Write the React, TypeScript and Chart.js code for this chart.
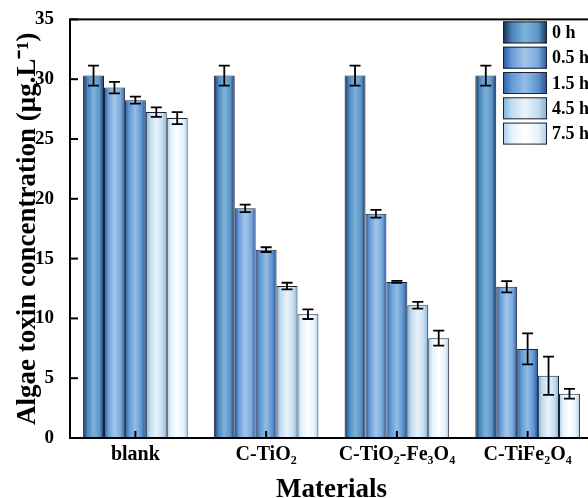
import React, { useEffect, useRef } from 'react';
import { Chart, registerables } from 'chart.js';

Chart.register(...registerables);

const categories = ['blank', 'C-TiO₂', 'C-TiO₂-Fe₃O₄', 'C-TiFe₂O₄'];
const seriesLabels = ['0 h', '0.5 h', '1.5 h', '4.5 h', '7.5 h'];

const values0h = [30.3, 30.3, 30.3, 30.3];
const values05h = [29.3, 19.2, 18.75, 12.65];
const values15h = [28.25, 15.75, 13.05, 7.45];
const values45h = [27.25, 12.7, 11.1, 5.2];
const values75h = [26.75, 10.35, 8.35, 3.7];

const errors0h = [0.83, 0.83, 0.83, 0.83];
const errors05h = [0.48, 0.32, 0.33, 0.47];
const errors15h = [0.3, 0.2, 0.08, 1.3];
const errors45h = [0.4, 0.28, 0.28, 1.6];
const errors75h = [0.5, 0.4, 0.62, 0.4];

const yMin = 0;
const yMax = 35;
const yStep = 5;

const seriesValues = [values0h, values05h, values15h, values45h, values75h];
const seriesErrors = [errors0h, errors05h, errors15h, errors45h, errors75h];

const FONT = '"Liberation Serif", "Times New Roman", serif';

const gradientStops: string[][] = [
  ['#152a4d', '#4a84bb', '#7db3da', '#5a94c6', '#17305a'],
  ['#2453a0', '#6a9cd6', '#a2c6ea', '#7aa8db', '#2858a3'],
  ['#2c60a8', '#6399d3', '#93bde6', '#5c92cf', '#264f92'],
  ['#7db1da', '#c4dcf0', '#e9f3fb', '#c4dcf0', '#7db1da'],
  ['#a8cde9', '#e6f2fb', '#ffffff', '#e6f2fb', '#a8cde9'],
];
const stopPos = [0, 0.2, 0.5, 0.8, 1];

function makeGrad(ctx: CanvasRenderingContext2D, left: number, w: number, stops: string[]) {
  const g = ctx.createLinearGradient(left, 0, left + w, 0);
  stops.forEach((c, i) => g.addColorStop(stopPos[i], c));
  return g;
}

const CAT_PCT = 0.8;

const decorPlugin = {
  id: 'decor',
  afterDatasetsDraw(chart: any) {
    const ctx = chart.ctx as CanvasRenderingContext2D;
    const ys = chart.scales.y;
    ctx.save();
    ctx.strokeStyle = '#000';
    ctx.lineWidth = 1.8;
    seriesErrors.forEach((errs, di) => {
      const meta = chart.getDatasetMeta(di);
      meta.data.forEach((el: any, j: number) => {
        const v = seriesValues[di][j];
        const e = errs[j];
        const yTop = ys.getPixelForValue(v + e);
        const yBot = ys.getPixelForValue(v - e);
        const x = el.x;
        const cap = 5.5;
        ctx.beginPath();
        ctx.moveTo(x, yTop);
        ctx.lineTo(x, yBot);
        ctx.moveTo(x - cap, yTop);
        ctx.lineTo(x + cap, yTop);
        ctx.moveTo(x - cap, yBot);
        ctx.lineTo(x + cap, yBot);
        ctx.stroke();
      });
    });
    ctx.restore();
  },
  afterDraw(chart: any) {
    const ctx = chart.ctx as CanvasRenderingContext2D;
    const ca = chart.chartArea;
    const ys = chart.scales.y;
    const xs = chart.scales.x;
    ctx.save();
    ctx.strokeStyle = '#000';
    ctx.lineWidth = 2;
    ctx.strokeRect(ca.left, ca.top, ca.right - ca.left, ca.bottom - ca.top);
    ys.ticks.forEach((t: any, i: number) => {
      const y = ys.getPixelForTick(i);
      ctx.beginPath();
      ctx.moveTo(ca.left, y);
      ctx.lineTo(ca.left + 8, y);
      ctx.stroke();
    });
    categories.forEach((_, i) => {
      const x = xs.getPixelForValue(i);
      ctx.beginPath();
      ctx.moveTo(x, ca.bottom);
      ctx.lineTo(x, ca.bottom - 7);
      ctx.stroke();
    });
    const boxW = 44;
    const boxH = 22;
    const gap = 25.3;
    const bx = ca.right - 90;
    const by = ca.top + 2;
    ctx.font = `bold 18px ${FONT}`;
    ctx.textBaseline = 'middle';
    ctx.textAlign = 'left';
    seriesLabels.forEach((lab, i) => {
      const y = by + i * gap;
      ctx.fillStyle = makeGrad(ctx, bx, boxW, gradientStops[i]);
      ctx.fillRect(bx, y, boxW, boxH);
      ctx.lineWidth = 1;
      ctx.strokeStyle = '#1a2233';
      ctx.strokeRect(bx + 0.5, y + 0.5, boxW - 1, boxH - 1);
      ctx.fillStyle = '#000';
      ctx.fillText(lab, bx + boxW + 5, y + boxH / 2 + 1);
    });
    ctx.restore();
  },
};

export default function App() {
  const ref = useRef<HTMLCanvasElement>(null);
  useEffect(() => {
    if (!ref.current) return;
    const datasets = seriesLabels.map((label, di) => ({
      label,
      data: seriesValues[di],
      borderColor: '#1a2233',
      borderWidth: 1,
      borderSkipped: false,
      categoryPercentage: CAT_PCT,
      barPercentage: 1.0,
      backgroundColor: (c: any) => {
        const chart = c.chart;
        const xs = chart.scales && chart.scales.x;
        if (c.type !== 'data' || !chart.chartArea || !xs) return gradientStops[di][2];
        const catW = (xs.right - xs.left) / categories.length;
        const groupW = catW * CAT_PCT;
        const barW = groupW / seriesLabels.length;
        const center = xs.getPixelForValue(c.dataIndex);
        const left = center - groupW / 2 + c.datasetIndex * barW;
        return makeGrad(chart.ctx, left, barW, gradientStops[di]);
      },
    }));
    const chart = new Chart(ref.current, {
      type: 'bar',
      data: { labels: categories, datasets },
      plugins: [decorPlugin],
      options: {
        responsive: false,
        animation: false,
        devicePixelRatio: 1,
        layout: { padding: { top: 16, right: 7, left: 0, bottom: 0 } },
        plugins: { legend: { display: false }, tooltip: { enabled: false }, title: { display: false } },
        scales: {
          x: {
            type: 'category',
            grid: { display: false },
            border: { display: false },
            ticks: { color: '#000', font: { family: FONT, size: 20, weight: 'bold' }, padding: -3, maxRotation: 0, autoSkip: false },
            title: {
              display: true,
              text: 'Materials',
              color: '#000',
              font: { family: FONT, size: 27, weight: 'bold', lineHeight: 1 },
              padding: { top: 0, bottom: -6 },
            },
            afterFit: (s: any) => { s.height = 60; },
          },
          y: {
            min: yMin,
            max: yMax,
            grid: { display: false },
            border: { display: false },
            ticks: { stepSize: yStep, color: '#000', font: { family: FONT, size: 19, weight: 'bold' }, padding: 8 },
            title: {
              display: true,
              text: 'Algae toxin concentration (μg.L⁻¹)',
              color: '#000',
              font: { family: FONT, size: 27, weight: 'bold', lineHeight: 1.2 },
              padding: { top: 12, bottom: 0 },
            },
            afterFit: (s: any) => { s.width = 70; },
          },
        },
      },
    });
    return () => chart.destroy();
  }, []);
  return (
    <div style={{ position: 'fixed', left: 0, top: 0, width: 588, height: 498, overflow: 'hidden', background: '#fff' }}>
      <canvas ref={ref} width={600} height={498} style={{ display: 'block' }} />
    </div>
  );
}
